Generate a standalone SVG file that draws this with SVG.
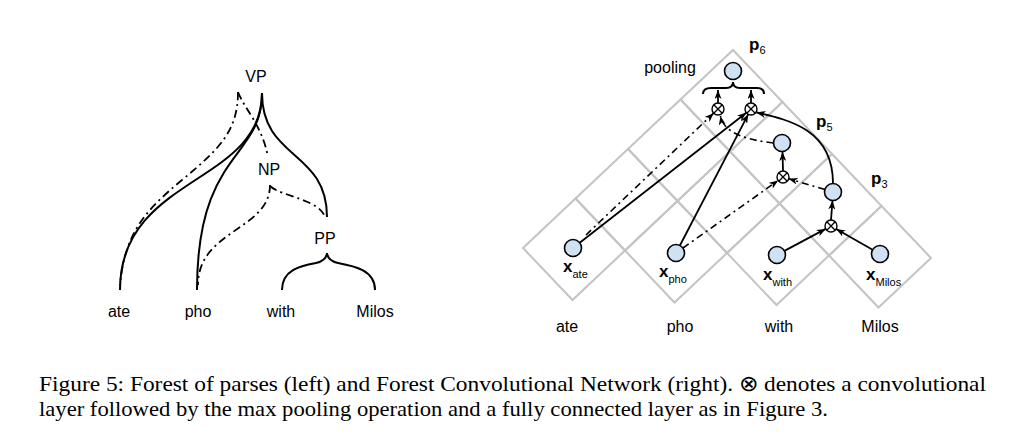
<svg xmlns="http://www.w3.org/2000/svg" width="1017" height="441" viewBox="0 0 1017 441">
<style>
.lbl{font-family:"Liberation Sans",Arial,sans-serif;font-size:16px;fill:#000}
.cap{font-family:"Liberation Serif","Times New Roman",serif;font-size:22px;fill:#000}
.sub{font-size:11px}
.b{font-weight:bold;font-size:17px}
.cell{fill:none;stroke:#c4c4c4;stroke-width:2}
.tree{fill:none;stroke:#000;stroke-width:2}
.dd{fill:none;stroke:#000;stroke-width:1.8;stroke-dasharray:8 4 2 4}
.arr{fill:none;stroke:#000;stroke-width:1.8;marker-end:url(#ah)}
.arrd{fill:none;stroke:#000;stroke-width:1.6;stroke-dasharray:7 4 2 4;marker-end:url(#ah)}
.node{fill:#cfe2f3;stroke:#000;stroke-width:1.6}
.op circle{fill:#fff;stroke:#000;stroke-width:1.4}
.op path{stroke:#000;stroke-width:1.3;fill:none}
</style>
<defs>
<marker id="ah" markerUnits="userSpaceOnUse" markerWidth="9" markerHeight="7" refX="9" refY="3.5" orient="auto">
<path d="M0,0 L9,3.5 L0,7 L2.5,3.5 Z" fill="#000"/>
</marker>
</defs>
<rect width="1017" height="441" fill="#fff"/>

<!-- LEFT: forest of parses -->
<g id="tree-edges">
<path class="tree" d="M262,93 C262,185 120,175 120,290"/>
<path class="tree" d="M262,93 C262,160 197,150 197,290"/>
<path class="tree" d="M262,93 C262,160 327,150 327,217"/>
<path class="dd" d="M238,92 C238,132 218,150 182,180 S125,232 120,285"/>
<path class="dd" d="M238,92 C245,110 262,125 268,157"/>
<path class="dd" d="M270,185 C270,230 198,230 198,285"/>
<path class="dd" d="M270,186 C280,196 322,200 325,218"/>
<path class="tree" d="M282,290 C282,270 300,266 316,263 Q326,261 327,253 Q328,261 338,263 C354,266 375,270 375,290"/>
</g>
<g id="VP"><text class="lbl" x="256" y="82" text-anchor="middle">VP</text></g>
<g id="NP"><text class="lbl" x="269" y="175" text-anchor="middle">NP</text></g>
<g id="PP"><text class="lbl" x="325" y="244" text-anchor="middle">PP</text></g>
<g id="w-ate"><text class="lbl" x="119" y="317" text-anchor="middle">ate</text></g>
<g id="w-pho"><text class="lbl" x="198" y="317" text-anchor="middle">pho</text></g>
<g id="w-with"><text class="lbl" x="281" y="317" text-anchor="middle">with</text></g>
<g id="w-Milos"><text class="lbl" x="375" y="317" text-anchor="middle">Milos</text></g>

<!-- RIGHT: chart grid -->
<g id="grid">
<polygon class="cell" points="523,248 575.5,198.5 625,250.5 572.5,300"/>
<polygon class="cell" points="625,250.5 677.5,201 727,253 674.5,302.5"/>
<polygon class="cell" points="727,253 779.5,203.5 829,255.5 776.5,305"/>
<polygon class="cell" points="829,255.5 881.5,206 931,258 878.5,307.5"/>
<polygon class="cell" points="575.5,198.5 628,149 677.5,201 625,250.5"/>
<polygon class="cell" points="677.5,201 730,151.5 779.5,203.5 727,253"/>
<polygon class="cell" points="779.5,203.5 832,154 881.5,206 829,255.5"/>
<polygon class="cell" points="628,149 680.5,99.5 730,151.5 677.5,201"/>
<polygon class="cell" points="730,151.5 782.5,102 832,154 779.5,203.5"/>
<polygon class="cell" points="680.5,99.5 733,50 782.5,102 730,151.5"/>
</g>

<g id="connectors">
<path class="arr" d="M784.4,250.9 L825.7,228.9"/>
<path class="arr" d="M872.6,249.8 L836.2,229"/>
<path class="arr" d="M831,220 L832.5,200.5"/>
<path class="arrd" d="M824.9,189.6 L788.7,178.7"/>
<path class="arrd" d="M683,248 L778.1,180.5"/>
<path class="arr" d="M579.7,242.8 L746.3,112.7"/>
<path class="arrd" d="M586,235 L713.6,113.2"/>
<path class="arr" d="M679.9,245.5 L748.2,114.3"/>
<path class="arrd" d="M773.5,143 C748,140 724,134 720.5,116"/>
<path class="arr" d="M833,183.5 C833,130 790,120 756.5,112.5"/>
<path class="arr" d="M783,171 L782.5,152"/>
<path class="arr" d="M718,103 L718,90"/>
<path class="arr" d="M751,103 L751,90"/>
<path class="tree" d="M703,94 Q703,88 711,88 L726,88 Q733,88 733,82 Q733,88 740,88 L757,88 Q764,88 764,94"/>
</g>

<g id="x-ate"><circle class="node" cx="573" cy="248" r="8.5"/><text class="lbl" x="563" y="272"><tspan class="b">x</tspan><tspan class="sub" dy="6">ate</tspan></text></g>
<g id="x-pho"><circle class="node" cx="676" cy="253" r="8.5"/><text class="lbl" x="659" y="277"><tspan class="b">x</tspan><tspan class="sub" dy="6">pho</tspan></text></g>
<g id="x-with"><circle class="node" cx="777" cy="255" r="8.5"/><text class="lbl" x="763" y="280"><tspan class="b">x</tspan><tspan class="sub" dy="6">with</tspan></text></g>
<g id="x-Milos"><circle class="node" cx="880" cy="254" r="8.5"/><text class="lbl" x="866" y="280"><tspan class="b">x</tspan><tspan class="sub" dy="6">Milos</tspan></text></g>

<g id="op3" class="op"><circle cx="831" cy="226" r="6"/><path d="M826.8,221.8 L835.2,230.2 M835.2,221.8 L826.8,230.2"/></g>
<g id="p3"><circle class="node" cx="833" cy="192" r="8.5"/><text class="lbl" x="871" y="184"><tspan class="b">p</tspan><tspan class="sub" dy="4">3</tspan></text></g>
<g id="op5" class="op"><circle cx="783" cy="177" r="6"/><path d="M778.8,172.8 L787.2,181.2 M787.2,172.8 L778.8,181.2"/></g>
<g id="p5"><circle class="node" cx="782" cy="143" r="8.5"/><text class="lbl" x="816" y="127"><tspan class="b">p</tspan><tspan class="sub" dy="4">5</tspan></text></g>
<g id="op6a" class="op"><circle cx="718" cy="109" r="6"/><path d="M713.8,104.8 L722.2,113.2 M722.2,104.8 L713.8,113.2"/></g>
<g id="op6b" class="op"><circle cx="751" cy="109" r="6"/><path d="M746.8,104.8 L755.2,113.2 M755.2,104.8 L746.8,113.2"/></g>
<g id="p6"><circle class="node" cx="733" cy="71" r="8.5"/><text class="lbl" x="749" y="50"><tspan class="b">p</tspan><tspan class="sub" dy="4">6</tspan></text></g>
<g id="pooling"><text class="lbl" x="670" y="73" text-anchor="middle">pooling</text></g>

<g id="r-ate"><text class="lbl" x="567" y="332" text-anchor="middle">ate</text></g>
<g id="r-pho"><text class="lbl" x="680" y="332" text-anchor="middle">pho</text></g>
<g id="r-with"><text class="lbl" x="779" y="332" text-anchor="middle">with</text></g>
<g id="r-Milos"><text class="lbl" x="880" y="332" text-anchor="middle">Milos</text></g>

<g id="caption">
<text class="cap" x="39" y="391" textLength="947" lengthAdjust="spacingAndGlyphs">Figure 5: Forest of parses (left) and Forest Convolutional Network (right). ⊗ denotes a convolutional</text>
<text class="cap" x="39" y="416" textLength="789" lengthAdjust="spacingAndGlyphs">layer followed by the max pooling operation and a fully connected layer as in Figure 3.</text>
</g>
</svg>
